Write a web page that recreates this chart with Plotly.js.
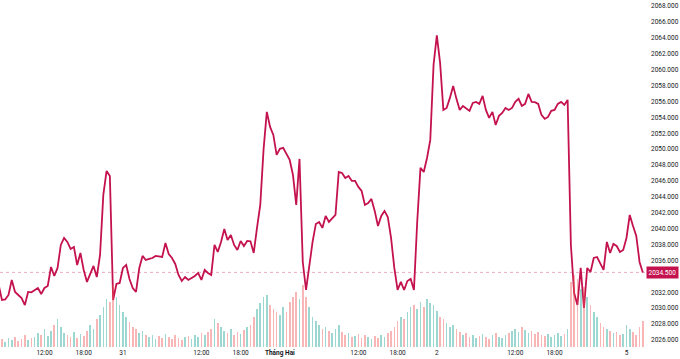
<!DOCTYPE html>
<html>
<head>
<meta charset="utf-8">
<script src="https://cdn.plot.ly/plotly-3.0.1.min.js"></script>
<style>html,body{margin:0;padding:0;background:#fff;}#chart{width:680px;height:359px;}</style>
</head>
<body>
<div id="chart"></div>
<script>
// 30-minute bars, UTC+7 clock. Session 1: Jan 30 05:00 -> Feb 3 04:30, Session 2: Feb 5 06:00 ->
const sessionStarts = ['2024-01-30T05:00:00Z', '2024-02-05T06:00:00Z'];
const sessionCounts = [192, 6];

const prices = [
  2032.92, 2031.03, 2031.10, 2031.66, 2033.55, 2032.04, 2031.66, 2031.28, 2030.40, 2032.04,
  2032.00, 2032.29, 2032.54, 2031.79, 2032.54, 2032.79, 2035.18, 2034.05, 2035.06, 2037.95,
  2038.83, 2038.33, 2037.45, 2037.70, 2035.43, 2036.94, 2034.81, 2033.30, 2034.30, 2035.31,
  2033.92, 2036.69, 2044.24, 2047.26, 2046.63, 2031.03, 2033.04, 2033.17, 2035.06, 2035.43,
  2033.67, 2032.54, 2032.04, 2035.06, 2036.57, 2036.06, 2036.19, 2036.31, 2036.57, 2036.50,
  2036.44, 2038.20, 2036.82, 2036.31, 2035.56, 2034.18, 2033.42, 2033.92, 2033.55, 2033.80,
  2034.05, 2034.43, 2033.55, 2034.81, 2034.43, 2034.18, 2037.95, 2037.07, 2038.33, 2039.96,
  2038.58, 2039.21, 2037.95, 2037.32, 2038.45, 2037.82, 2038.45, 2038.40, 2036.94, 2040.09,
  2042.98, 2049.90, 2054.68, 2052.79, 2051.79, 2049.27, 2050.03, 2050.15, 2049.40, 2048.64,
  2046.76, 2042.98, 2048.77, 2035.81, 2032.29, 2035.43, 2038.33, 2040.59, 2040.84, 2040.09,
  2041.60, 2040.84, 2041.35, 2041.72, 2047.13, 2047.01, 2046.38, 2046.63, 2046.00, 2046.00,
  2045.25, 2044.74, 2042.98, 2043.23, 2043.74, 2042.23, 2040.34, 2041.60, 2042.23, 2041.47,
  2038.83, 2035.06, 2032.29, 2033.30, 2032.29, 2033.42, 2033.67, 2032.29, 2040.84, 2047.64,
  2047.13, 2048.89, 2051.16, 2060.59, 2064.30, 2060.84, 2054.93, 2055.18, 2056.44, 2057.95,
  2056.32, 2054.93, 2055.43, 2055.06, 2054.81, 2055.81, 2055.94, 2055.69, 2056.69, 2054.93,
  2053.93, 2054.68, 2053.04, 2054.18, 2054.55, 2055.18, 2054.93, 2055.18, 2055.94, 2056.32,
  2055.43, 2055.69, 2056.94, 2055.94, 2055.90, 2055.69, 2054.30, 2053.80, 2054.05, 2054.81,
  2054.93, 2055.69, 2055.94, 2055.56, 2056.19, 2037.95, 2031.91, 2030.40, 2035.06, 2030.03,
  2035.06, 2034.55, 2036.31, 2036.44, 2035.69, 2034.81, 2038.33, 2036.94, 2038.08, 2037.82,
  2037.07, 2037.32,
  2038.83, 2041.72, 2040.34, 2039.08, 2035.81, 2034.50
];

const volumes = [
  6, 8, 5, 9, 7, 10, 6, 8, 12, 7,
  9, 10, 14, 12, 18, 11, 16, 22, 28, 20,
  14, 12, 10, 15, 9, 13, 11, 16, 22, 18,
  28, 32, 40, 48, 45, 62, 50, 42, 35, 30,
  25, 20, 18, 14, 16, 12, 10, 12, 8, 11,
  9, 13, 10, 8, 12, 9, 7, 10, 11, 8,
  12, 10, 14, 12, 15, 18, 28, 24, 20, 16,
  14, 18, 12, 15, 13, 17, 20, 22, 30, 38,
  44, 50, 52, 42, 38, 35, 32, 40, 35, 45,
  50, 55, 48, 62, 50, 40, 30, 26, 22, 18,
  20, 16, 14, 18, 22, 15, 12, 14, 10, 11,
  13, 9, 12, 10, 8, 11, 9, 12, 10, 14,
  16, 20, 26, 30, 28, 35, 40, 42, 38, 45,
  40, 48, 44, 42, 36, 30, 28, 24, 20, 22,
  18, 15, 12, 14, 10, 12, 9, 11, 13, 10,
  8, 12, 14, 10, 9, 12, 14, 16, 18, 15,
  20, 17, 14, 16, 13, 15, 12, 11, 13, 10,
  12, 14, 11, 13, 18, 65, 72, 68, 58, 60,
  50, 42, 35, 30, 24, 20, 18, 16, 14, 15,
  12, 13,
  22, 18, 15, 12, 20, 26
];

const xTickVals = ['2024-01-30 12:00', '2024-01-30 18:00', '2024-01-31 00:00', '2024-01-31 12:00',
  '2024-01-31 18:00', '2024-02-01 00:00', '2024-02-01 12:00', '2024-02-01 18:00',
  '2024-02-02 00:00', '2024-02-02 12:00', '2024-02-02 18:00', '2024-02-05 06:00'];
const xTickText = ['12:00', '18:00', '31', '12:00', '18:00', '<b>Tháng Hai</b>', '12:00', '18:00',
  '2', '12:00', '18:00', '5'];

// price-scale ticks (the one hidden under the last-price badge is left out)
const yTickVals = [2026, 2028, 2030, 2032, 2036, 2038, 2040, 2042, 2044, 2046, 2048,
  2050, 2052, 2054, 2056, 2058, 2060, 2062, 2064, 2066, 2068];

function fmt(d) {
  const p = n => String(n).padStart(2, '0');
  return d.getUTCFullYear() + '-' + p(d.getUTCMonth() + 1) + '-' + p(d.getUTCDate()) + ' ' +
    p(d.getUTCHours()) + ':' + p(d.getUTCMinutes());
}
const times = [];
sessionStarts.forEach((s, i) => {
  const t0 = new Date(s).getTime();
  for (let j = 0; j < sessionCounts[i]; j++) times.push(fmt(new Date(t0 + j * 1800000)));
});

const volColors = volumes.map((v, i) =>
  (i === 0 || prices[i] >= prices[i - 1]) ? 'rgba(38,166,154,0.45)' : 'rgba(239,83,80,0.42)');

const lineColor = '#c4124f';
const lastPrice = prices[prices.length - 1];

const traces = [
  {
    type: 'bar', x: times, y: volumes, yaxis: 'y2',
    marker: {color: volColors, line: {width: 0}},
    width: 1800000 * 0.5, hoverinfo: 'skip'
  },
  {
    type: 'scatter', mode: 'lines', x: times, y: prices,
    line: {color: lineColor, width: 1.8}
  }
];

const font = {family: 'Roboto, "Open Sans", sans-serif', size: 6.5, color: '#131722'};

const layout = {
  width: 680, height: 359,
  margin: {l: 0, r: 35, t: 0, b: 12, pad: 0},
  paper_bgcolor: '#ffffff', plot_bgcolor: '#ffffff',
  showlegend: false,
  font: font,
  bargap: 0,
  xaxis: {
    type: 'date',
    range: ['2024-01-30 05:12', '2024-02-05 08:50'],
    rangebreaks: [{bounds: ['2024-02-03 05:00', '2024-02-05 06:00']}],
    tickmode: 'array', tickvals: xTickVals, ticktext: xTickText,
    showgrid: false, zeroline: false, showline: false, ticks: '',
    tickfont: font, fixedrange: true
  },
  yaxis: {
    side: 'right', range: [2025.12, 2068.75],
    tickmode: 'array', tickvals: yTickVals, tickformat: '.3f',
    showgrid: false, zeroline: false, showline: false, ticks: '',
    tickfont: font, ticklabelstandoff: 5
  },
  yaxis2: {overlaying: 'y', range: [0, 347], visible: false, showgrid: false},
  shapes: [{
    type: 'line', xref: 'paper', x0: 0, x1: 1, yref: 'y', y0: lastPrice, y1: lastPrice,
    line: {color: 'rgba(196,18,79,0.35)', width: 1, dash: 'dot'}
  }],
  annotations: [{
    xref: 'paper', x: 1, xanchor: 'left', xshift: 1,
    yref: 'y', y: lastPrice, yanchor: 'middle',
    text: lastPrice.toFixed(3), showarrow: false,
    font: {family: font.family, size: 6.5, color: '#ffffff'},
    bgcolor: lineColor, borderpad: 1.5
  }]
};

Plotly.newPlot('chart', traces, layout, {staticPlot: true, displayModeBar: false});
</script>
</body>
</html>
